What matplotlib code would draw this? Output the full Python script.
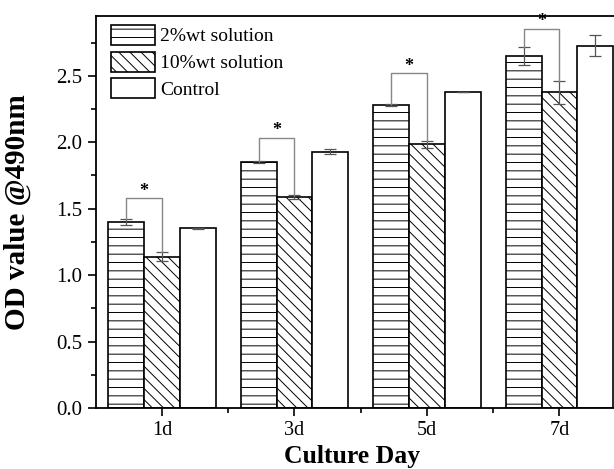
import matplotlib.pyplot as plt
import numpy as np
from matplotlib.ticker import MultipleLocator, FixedLocator

days = ["1d", "3d", "5d", "7d"]
series = ["2%wt solution", "10%wt solution", "Control"]

sol2 = [1.40, 1.85, 2.28, 2.65]
sol2_err = [0.02, 0.01, 0.005, 0.066]
sol10 = [1.14, 1.59, 1.985, 2.375]
sol10_err = [0.035, 0.016, 0.027, 0.084]
control = [1.353, 1.93, 2.376, 2.727]
control_err = [0.005, 0.019, 0.0, 0.078]

# top of the significance brackets and star labels
bracket_top = [1.577, 2.035, 2.519, 2.855]
stars = ["*", "*", "*", "*"]

plt.rcParams['font.family'] = ['Liberation Serif', 'DejaVu Serif']
plt.rcParams['hatch.linewidth'] = 0.7

fig = plt.figure(figsize=(6.14, 4.69), dpi=100)
ax = fig.add_axes([0.156, 0.130, 0.863, 0.836])

x = np.arange(len(days))
w = 0.27
hatches = ['--', '\\\\\\', '']
values = [sol2, sol10, control]
errors = [sol2_err, sol10_err, control_err]
for i, (vals, errs, h, lab) in enumerate(zip(values, errors, hatches, series)):
    ax.bar(x + (i - 1) * w, vals, w, color='white', edgecolor='black',
           linewidth=1.2, hatch=h, label=lab, zorder=2)
    ax.errorbar(x + (i - 1) * w, vals, yerr=errs, fmt='none', ecolor='#555555',
                elinewidth=0.9, capsize=4, capthick=0.9, zorder=3)

# significance brackets between 2% and 10% bars
for k in range(len(days)):
    xl = x[k] - w
    xr = x[k]
    yl = sol2[k] + sol2_err[k]
    yr = sol10[k] + sol10_err[k]
    ax.plot([xl, xl, xr, xr], [yl, bracket_top[k], bracket_top[k], yr],
            color='#888888', linewidth=1.0, zorder=4)
    ax.text((xl + xr) / 2, bracket_top[k] - 0.01, stars[k], ha='center', va='bottom',
            fontsize=13, fontweight='bold')

ax.set_xlim(-0.5, 3.5)
ax.set_ylim(0, 2.95)
ax.set_xticks(x)
ax.set_xticklabels(days, fontsize=14.5)
ax.xaxis.set_minor_locator(FixedLocator([0.5, 1.5, 2.5]))
ax.yaxis.set_major_locator(MultipleLocator(0.5))
ax.yaxis.set_minor_locator(MultipleLocator(0.25))
ax.set_yticks(ax.get_yticks())
ax.set_yticklabels(['%.1f' % v for v in ax.get_yticks()], fontsize=15)
ax.set_ylim(0, 2.95)
ax.tick_params(which='major', direction='out', length=6, width=1.2)
ax.tick_params(which='minor', direction='out', length=3.5, width=1.2)
for s in ax.spines.values():
    s.set_linewidth(1.3)

ax.set_xlabel("Culture Day", fontsize=18.5, fontweight='bold')
ax.xaxis.set_label_coords(0.483, -0.094)
ax.set_ylabel("OD value @490nm", fontsize=21, fontweight='bold')
ax.yaxis.set_label_coords(-0.122, 0.5)

ax.legend(loc='upper left', bbox_to_anchor=(0.028, 0.977), fontsize=14,
          frameon=False, handlelength=2.3, handleheight=1.2, labelspacing=0.32,
          handletextpad=0.25, borderaxespad=0, borderpad=0)

fig.savefig("out.png", dpi=100)
